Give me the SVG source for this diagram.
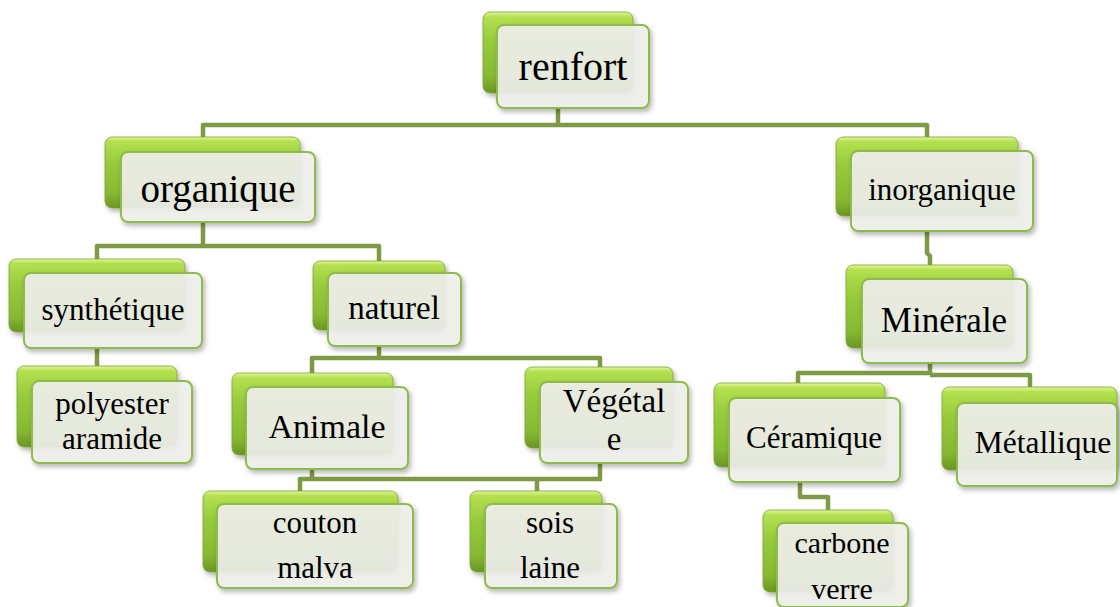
<svg xmlns="http://www.w3.org/2000/svg" width="1120" height="607" viewBox="0 0 1120 607">
<style>
.back{fill:url(#gBack);stroke:#7da23a;stroke-width:0.8;filter:url(#sh)}
.front{fill:#f1f1ed;fill-opacity:0.9;stroke:#8fbb4e;stroke-width:2;filter:url(#sh)}
.t{font-family:'Liberation Serif','DejaVu Serif','Times New Roman',serif;fill:#000;text-anchor:middle}
.conn{fill:none;stroke:#7f9a46;stroke-width:4.5;stroke-linejoin:round}
</style>
<defs>
<linearGradient id="gBack" x1="0" y1="0" x2="0" y2="1">
<stop offset="0" stop-color="#e2f79a"/>
<stop offset="0.06" stop-color="#b4e04f"/>
<stop offset="0.35" stop-color="#98cc3c"/>
<stop offset="0.8" stop-color="#86b832"/>
<stop offset="1" stop-color="#6a9624"/>
</linearGradient>
<filter id="sh" x="-10%" y="-10%" width="125%" height="130%">
<feDropShadow dx="2" dy="3" stdDeviation="2.5" flood-color="#000" flood-opacity="0.3"/>
</filter>
</defs>
<rect width="1120" height="607" fill="#fff"/>
<g id="connectors">
<path class="conn" d="M558,108 V125 M203,137 V125 H927 V137"/>
<path class="conn" d="M203,222 V246 M97,260 V246 H379 V261"/>
<path class="conn" d="M97,348 V366"/>
<path class="conn" d="M379,346 V358 M312,373 V358 H600 V367"/>
<path class="conn" d="M312,469 V479 M600,463 V479 M300,491 V479 H602 M537,479 V491"/>
<path class="conn" d="M927,231 V253 L930,256 V265"/>
<path class="conn" d="M930,363 V374 M798,383 V373 H930 M930,375 H1030 V387"/>
<path class="conn" d="M800,482 V497 H828 V510"/>
</g>
<g font-family="Liberation Serif, DejaVu Serif, serif">
<g id="n-renfort">
<rect class="back" x="483" y="12" width="150" height="81" rx="7"/>
<rect class="front" x="497" y="25" width="152" height="83" rx="7"/>
<text class="t" x="573" y="80" font-size="40">renfort</text>
</g>
<g id="n-organique">
<rect class="back" x="105" y="137" width="195" height="71" rx="7"/>
<rect class="front" x="121" y="152" width="194" height="70" rx="7"/>
<text class="t" x="218" y="202" font-size="39">organique</text>
</g>
<g id="n-inorganique">
<rect class="back" x="836" y="137" width="182" height="79" rx="7"/>
<rect class="front" x="851" y="151" width="182" height="80" rx="7"/>
<text class="t" x="942" y="200" font-size="31">inorganique</text>
</g>
<g id="n-synthetique">
<rect class="back" x="9" y="259" width="176" height="73" rx="7"/>
<rect class="front" x="24" y="273" width="178" height="75" rx="7"/>
<text class="t" x="113" y="320" font-size="31">synthétique</text>
</g>
<g id="n-naturel">
<rect class="back" x="313" y="261" width="132" height="69" rx="7"/>
<rect class="front" x="328" y="273" width="133" height="73" rx="7"/>
<text class="t" x="394" y="319" font-size="33">naturel</text>
</g>
<g id="n-minerale">
<rect class="back" x="846" y="265" width="167" height="83" rx="7"/>
<rect class="front" x="862" y="279" width="165" height="84" rx="7"/>
<text class="t" x="944" y="332" font-size="35">Minérale</text>
</g>
<g id="n-polyester">
<rect class="back" x="17" y="366" width="160" height="81" rx="7"/>
<rect class="front" x="32" y="381" width="160" height="82" rx="7"/>
<text class="t" x="112" y="414" font-size="31">polyester</text>
<text class="t" x="112" y="449" font-size="31">aramide</text>
</g>
<g id="n-animale">
<rect class="back" x="232" y="373" width="161" height="82" rx="7"/>
<rect class="front" x="246" y="387" width="162" height="82" rx="7"/>
<text class="t" x="327" y="438" font-size="34">Animale</text>
</g>
<g id="n-vegetale">
<rect class="back" x="525" y="367" width="148" height="81" rx="7"/>
<rect class="front" x="540" y="382" width="148" height="81" rx="7"/>
<text class="t" x="614" y="412" font-size="33">Végétal</text>
<text class="t" x="614" y="450" font-size="33">e</text>
</g>
<g id="n-ceramique">
<rect class="back" x="714" y="383" width="171" height="84" rx="7"/>
<rect class="front" x="729" y="398" width="171" height="84" rx="7"/>
<text class="t" x="814" y="448" font-size="31">Céramique</text>
</g>
<g id="n-metallique">
<rect class="back" x="942" y="387" width="175" height="83" rx="7"/>
<rect class="front" x="957" y="403" width="160" height="83" rx="7"/>
<text class="t" x="1043" y="453" font-size="31.5">Métallique</text>
</g>
<g id="n-couton">
<rect class="back" x="203" y="491" width="195" height="81" rx="7"/>
<rect class="front" x="217" y="504" width="196" height="84" rx="7"/>
<text class="t" x="315" y="533" font-size="31">couton</text>
<text class="t" x="315" y="578" font-size="31">malva</text>
</g>
<g id="n-sois">
<rect class="back" x="470" y="491" width="132" height="81" rx="7"/>
<rect class="front" x="485" y="504" width="132" height="84" rx="7"/>
<text class="t" x="550" y="533" font-size="31">sois</text>
<text class="t" x="550" y="578" font-size="31">laine</text>
</g>
<g id="n-carbone">
<rect class="back" x="763" y="510" width="130" height="82" rx="7"/>
<rect class="front" x="777" y="523" width="131" height="84" rx="7"/>
<text class="t" x="842" y="553" font-size="30">carbone</text>
<text class="t" x="842" y="599" font-size="30">verre</text>
</g>
</g>
</svg>
